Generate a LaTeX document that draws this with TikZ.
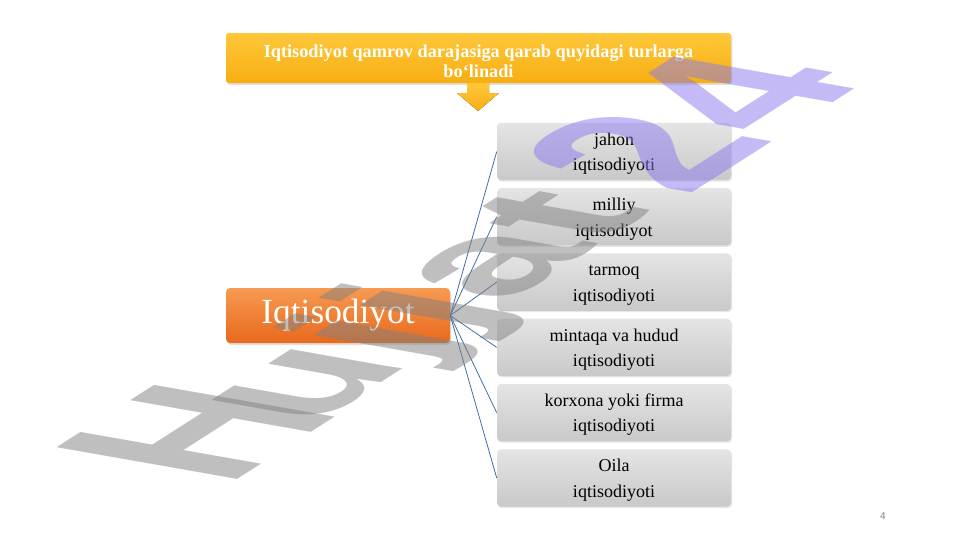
\documentclass[tikz,border=0pt]{standalone}
\usepackage{fontspec}
\setmainfont{Liberation Serif}
\newfontfamily\wmfont{Liberation Sans}
\usetikzlibrary{shadows}

\definecolor{goldtop}{HTML}{FFC83A}
\definecolor{goldbot}{HTML}{F7AE12}
\definecolor{orangetop}{HTML}{F79A52}
\definecolor{orangebot}{HTML}{E8691C}
\definecolor{greytop}{HTML}{E4E4E4}
\definecolor{greybot}{HTML}{C9C9C9}
\definecolor{linkblue}{HTML}{3F6FA8}
\definecolor{wmgrey}{HTML}{808080}
\definecolor{wmpurple}{HTML}{8A78EE}

\begin{document}
\begin{tikzpicture}[x=0.75pt,y=-0.75pt,
    title/.style={rounded corners=2,top color=goldtop,bottom color=goldbot,draw=none,
    minimum width=378.75pt,minimum height=37.5pt,align=center,text=white,inner ysep=0pt,
    text height=29pt,text depth=0.5pt,
    font=\bfseries\fontsize{13.7}{15}\selectfont,drop shadow={opacity=0.25,shadow xshift=1pt,shadow yshift=-1.5pt}},
    root/.style={rounded corners=3,top color=orangetop,bottom color=orangebot,draw=none,
    minimum width=168pt,minimum height=41.25pt,text=white,
    font=\fontsize{26.5}{28}\selectfont,drop shadow={opacity=0.25,shadow xshift=1pt,shadow yshift=-1.5pt}},
    kind/.style={rounded corners=3,top color=greytop,bottom color=greybot,draw=none,
    minimum width=175.5pt,minimum height=43pt,align=center,inner ysep=0.5pt,
    text height=31.8pt,text depth=3pt,
    font=\fontsize{13.5}{19}\selectfont,drop shadow={opacity=0.2,shadow xshift=0.8pt,shadow yshift=-1pt}},
    link/.style={linkblue,line width=0.6pt},
    wmark/.style={cm={1.245,0.795,#1,(0,0)},transform shape,anchor=base west,inner sep=0pt,
    font=\wmfont\bfseries\fontsize{100}{100}\selectfont,text opacity=0.5}
    ]
    \useasboundingbox (0,0) rectangle (961,540);
    \def\X{614}    % centre of the right column
    \def\Y{151.5}  % first row
    \def\S{65.3}   % row step

    \node[title] (head) at (478.5,58) {Iqtisodiyot qamrov darajasiga qarab quyidagi turlarga\\bo‘linadi};
    % down arrow under the title
    \fill[top color=goldtop,bottom color=goldbot] (467,83) -- (489,83) -- (489,93) -- (499,93)
        -- (478,111) -- (457,93) -- (467,93) -- cycle;

    \node[root] (econ) at (338,315.5) {Iqtisodiyot};

    \foreach \i/\txt in {1/{jahon\\iqtisodiyoti},2/{milliy\\iqtisodiyot},3/{tarmoq\\iqtisodiyoti},
        4/{mintaqa va hudud\\iqtisodiyoti},5/{korxona yoki firma\\iqtisodiyoti},6/{Oila\\iqtisodiyoti}} {
        \node[kind] (k\i) at (\X,\Y+\S*\i-\S) {\txt};
        \draw[link] (econ.east) -- (k\i.west);
    }

    % watermark, in three pieces for the tilt
    \node[wmark={-1.970,0.346},text=wmgrey] (wmH) at (226,487) {H};
    \node[wmark={-1.576,0.277},text=wmgrey] (wmU) at (312,427) {ujjat};
    \node[wmark={-1.970,0.346},text=wmpurple] (wm24) at (686,197) {24};

    \node[font=\wmfont\fontsize{7.5}{9}\selectfont,text=gray] (page) at (883,516) {4};
\end{tikzpicture}
\end{document}
